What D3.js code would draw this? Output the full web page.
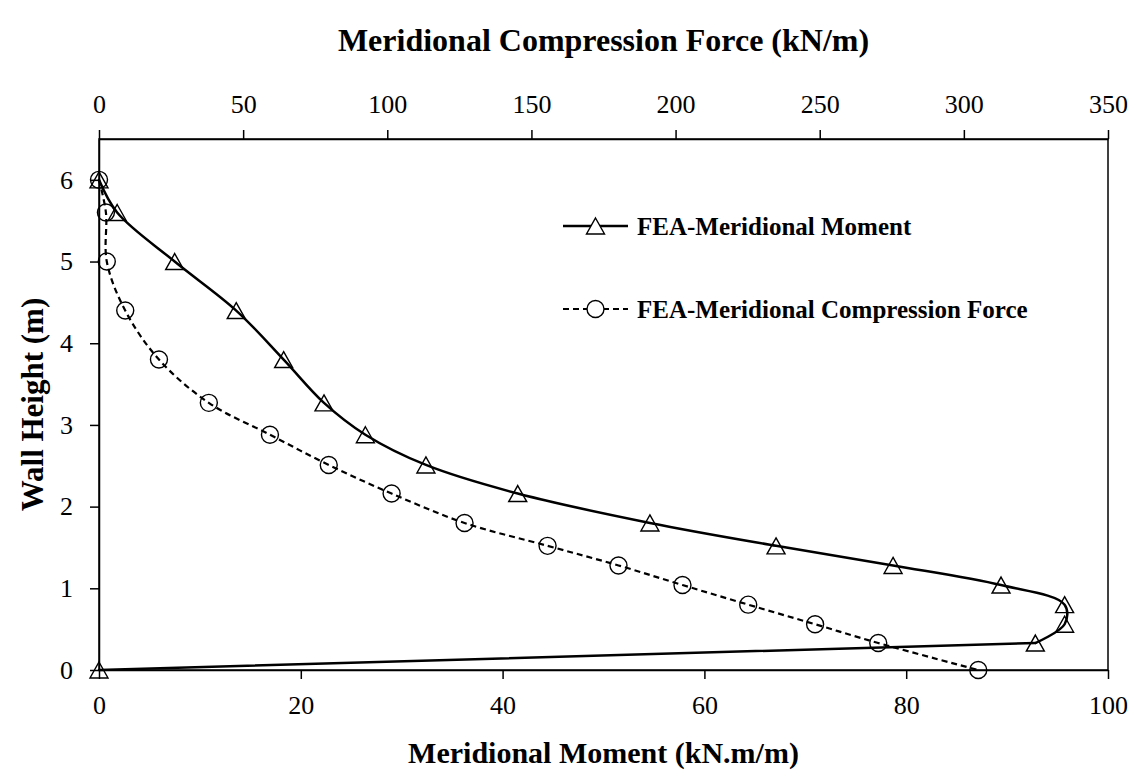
<!DOCTYPE html>
<html>
<head>
<meta charset="utf-8">
<script src="https://cdn.jsdelivr.net/npm/d3@7"></script>
<style>
  body { margin: 0; background: #fff; }
  text { font-family: "Liberation Serif", "Times New Roman", serif; fill: #000; }
</style>
</head>
<body>
<svg id="chart" width="1135" height="771"></svg>
<script>
// Node heights along the wall (m), shared by both FEA result series
const wallHeights = [6.0, 5.6, 5.0, 4.4, 3.8, 3.27, 2.88, 2.51, 2.16, 1.8, 1.52, 1.28, 1.04, 0.8, 0.56, 0.33, 0];
// Meridional moment (kN.m/m), bottom axis
const momentValues = [0, 1.8, 7.5, 13.6, 18.3, 22.3, 26.4, 32.4, 41.5, 54.6, 67.1, 78.7, 89.4, 95.7, 95.7, 92.8, 0];
// Meridional compression force (kN/m), top axis
const forceValues = [0, 2.4, 2.7, 9.1, 20.8, 38.1, 59.3, 79.7, 101.5, 126.8, 155.6, 180.2, 202.4, 225.2, 248.4, 270.3, 305];

const momentTicks = [0, 20, 40, 60, 80, 100];
const forceTicks = [0, 50, 100, 150, 200, 250, 300, 350];
const heightTicks = [0, 1, 2, 3, 4, 5, 6];

const seriesNames = ["FEA-Meridional Moment", "FEA-Meridional Compression Force"];
const axisTitles = {
  bottom: "Meridional Moment (kN.m/m)",
  top: "Meridional Compression Force (kN/m)",
  left: "Wall Height (m)"
};

const m = { left: 99, right: 1108, top: 139, bottom: 670 };

const svg = d3.select("#chart");

const xMoment = d3.scaleLinear().domain([0, 100]).range([m.left, m.right]);
const xForce = d3.scaleLinear().domain([0, 350]).range([m.left, m.right]);
const y = d3.scaleLinear().domain([0, 6.5]).range([m.bottom, m.top]);

// plot frame
svg.append("rect")
  .attr("x", m.left).attr("y", m.top)
  .attr("width", m.right - m.left).attr("height", m.bottom - m.top)
  .attr("fill", "none").attr("stroke", "#000").attr("stroke-width", 1.5);

function styleAxis(g) {
  g.select(".domain").attr("stroke", "#000").attr("stroke-width", 1.5);
  g.selectAll(".tick line").attr("stroke", "#000").attr("stroke-width", 1.5);
  g.selectAll(".tick text")
    .style("font-family", '"Liberation Serif", "Times New Roman", serif')
    .style("font-size", "26px").attr("fill", "#000");
}

const intFmt = d3.format("d");

svg.append("g")
  .attr("transform", `translate(0,${m.bottom})`)
  .call(d3.axisBottom(xMoment).tickValues(momentTicks).tickFormat(intFmt)
    .tickSize(9).tickPadding(17).tickSizeOuter(0))
  .call(styleAxis);

svg.append("g")
  .attr("transform", `translate(0,${m.top})`)
  .call(d3.axisTop(xForce).tickValues(forceTicks).tickFormat(intFmt)
    .tickSize(9).tickPadding(17).tickSizeOuter(0))
  .call(styleAxis);

svg.append("g")
  .attr("transform", `translate(${m.left},0)`)
  .call(d3.axisLeft(y).tickValues(heightTicks).tickFormat(intFmt)
    .tickSize(9).tickPadding(17).tickSizeOuter(0))
  .call(styleAxis);

// axis titles
svg.append("text")
  .attr("x", (m.left + m.right) / 2).attr("y", 752)
  .attr("text-anchor", "middle").attr("dominant-baseline", "central")
  .style("font-size", "30px").style("font-weight", "bold")
  .text(axisTitles.bottom);

svg.append("text")
  .attr("x", (m.left + m.right) / 2).attr("y", 40)
  .attr("text-anchor", "middle").attr("dominant-baseline", "central")
  .style("font-size", "32px").style("font-weight", "bold")
  .text(axisTitles.top);

svg.append("text")
  .attr("transform", `translate(32,${(m.top + m.bottom) / 2}) rotate(-90)`)
  .attr("text-anchor", "middle").attr("dominant-baseline", "central")
  .style("font-size", "31px").style("font-weight", "bold")
  .text(axisTitles.left);

// series data
const moment = wallHeights.map((h, i) => ({ x: momentValues[i], h }));
const force = wallHeights.map((h, i) => ({ x: forceValues[i], h }));

const smooth = d3.curveCatmullRom.alpha(0.5);
const lineMoment = d3.line().x(d => xMoment(d.x)).y(d => y(d.h)).curve(smooth);
const lineMomentStraight = d3.line().x(d => xMoment(d.x)).y(d => y(d.h));
const lineForce = d3.line().x(d => xForce(d.x)).y(d => y(d.h)).curve(smooth);

svg.append("path").datum(force)
  .attr("d", lineForce)
  .attr("fill", "none").attr("stroke", "#000").attr("stroke-width", 2.2)
  .attr("stroke-dasharray", "6,4");

// moment profile: smooth through the wall nodes, straight run down to the base node
const nLast = moment.length - 1;
svg.append("path").datum(moment.slice(0, nLast))
  .attr("d", lineMoment)
  .attr("fill", "none").attr("stroke", "#000").attr("stroke-width", 2.5)
  .attr("stroke-linecap", "round");
svg.append("path").datum(moment.slice(nLast - 1))
  .attr("d", lineMomentStraight)
  .attr("fill", "none").attr("stroke", "#000").attr("stroke-width", 2.5)
  .attr("stroke-linecap", "round");

// open triangle marker centred on its bounding box
const triW = 18, triH = 16;
function triPath(cx, cy) {
  return `M${cx},${cy - triH / 2}L${cx + triW / 2},${cy + triH / 2}L${cx - triW / 2},${cy + triH / 2}Z`;
}

svg.append("g").selectAll("path").data(moment).join("path")
  .attr("d", d => triPath(xMoment(d.x), y(d.h)))
  .attr("fill", "none").attr("stroke", "#000").attr("stroke-width", 1.4);

svg.append("g").selectAll("circle").data(force).join("circle")
  .attr("cx", d => xForce(d.x)).attr("cy", d => y(d.h)).attr("r", 8.5)
  .attr("fill", "none").attr("stroke", "#000").attr("stroke-width", 1.4);

// legend
const legend = svg.append("g");
const lx0 = 563, lx1 = 628, lmid = (lx0 + lx1) / 2;
const rows = [226, 309];

legend.append("line").attr("x1", lx0).attr("x2", lx1).attr("y1", rows[0]).attr("y2", rows[0])
  .attr("stroke", "#000").attr("stroke-width", 2.5);
legend.append("path").attr("d", triPath(lmid, rows[0]))
  .attr("fill", "#fff").attr("stroke", "#000").attr("stroke-width", 1.4);
legend.append("text").attr("x", 637).attr("y", rows[0]).attr("dominant-baseline", "central")
  .style("font-size", "25px").style("font-weight", "bold").text(seriesNames[0]);

legend.append("line").attr("x1", lx0).attr("x2", lx1).attr("y1", rows[1]).attr("y2", rows[1])
  .attr("stroke", "#000").attr("stroke-width", 2.2).attr("stroke-dasharray", "6,4");
legend.append("circle").attr("cx", lmid).attr("cy", rows[1]).attr("r", 8.5)
  .attr("fill", "#fff").attr("stroke", "#000").attr("stroke-width", 1.4);
legend.append("text").attr("x", 637).attr("y", rows[1]).attr("dominant-baseline", "central")
  .style("font-size", "25px").style("font-weight", "bold").text(seriesNames[1]);
</script>
</body>
</html>
